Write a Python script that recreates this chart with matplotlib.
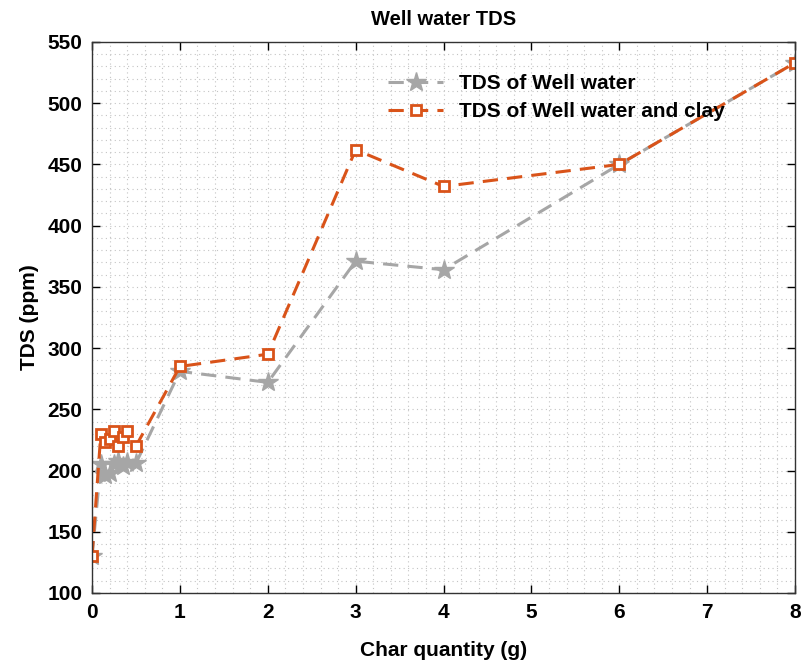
import matplotlib
matplotlib.use("Agg")
import matplotlib.pyplot as plt
from matplotlib.ticker import MultipleLocator

plt.rcParams['font.family'] = ['Liberation Sans', 'DejaVu Sans']

char_qty = [0, 0.1, 0.15, 0.2, 0.25, 0.3, 0.35, 0.4, 0.5, 1, 2, 3, 4, 6, 8]
tds_well = [130, 205, 196, 198, 205, 208, 204, 207, 206, 281, 272, 371, 364, 450, 533]
tds_clay = [130, 230, 223, 226, 232, 220, 227, 232, 220, 285, 295, 462, 432, 450, 533]

gray = '#A6A6A6'
orange = '#D95319'

fig = plt.figure(figsize=(8.03, 6.61), dpi=100)
ax = fig.add_axes([0.1146, 0.1029, 0.8755, 0.8336])

ax.plot(char_qty, tds_well, linestyle=(0, (5, 3)), color=gray, linewidth=2.2,
        marker='*', markersize=15, markerfacecolor=gray, markeredgecolor=gray,
        label='TDS of Well water')
ax.plot(char_qty, tds_clay, linestyle=(0, (5, 3)), color=orange, linewidth=2.2,
        marker='s', markersize=7, markerfacecolor='white', markeredgecolor=orange,
        markeredgewidth=2, label='TDS of Well water and clay')

ax.set_xlim(0, 8)
ax.set_ylim(100, 550)
ax.xaxis.set_major_locator(MultipleLocator(1))
ax.xaxis.set_minor_locator(MultipleLocator(0.2))
ax.yaxis.set_major_locator(MultipleLocator(50))
ax.yaxis.set_minor_locator(MultipleLocator(10))
ax.grid(which='both', linestyle=(0, (1, 3)), color='#C4C4C4', linewidth=0.8)
ax.set_axisbelow(True)
ax.tick_params(which='major', direction='in', top=True, right=True, length=6,
               labelsize=15, width=1, pad=7)
ax.tick_params(which='minor', length=0, top=True, right=True)
for lab in ax.get_xticklabels() + ax.get_yticklabels():
    lab.set_fontweight('bold')
for s in ax.spines.values():
    s.set_color('#333333')
    s.set_linewidth(1)

ax.set_xlabel('Char quantity (g)', fontsize=15, fontweight='bold', labelpad=14)
ax.set_ylabel('TDS (ppm)', fontsize=15, fontweight='bold', labelpad=6)
ax.set_title('Well water TDS', fontsize=14.5, fontweight='bold', pad=12)

leg = ax.legend(loc='upper left', bbox_to_anchor=(0.395, 0.975), frameon=False,
                handlelength=2.6, labelspacing=0.4,
                prop={'weight': 'bold', 'size': 15})

fig.savefig('out.png', dpi=100)
